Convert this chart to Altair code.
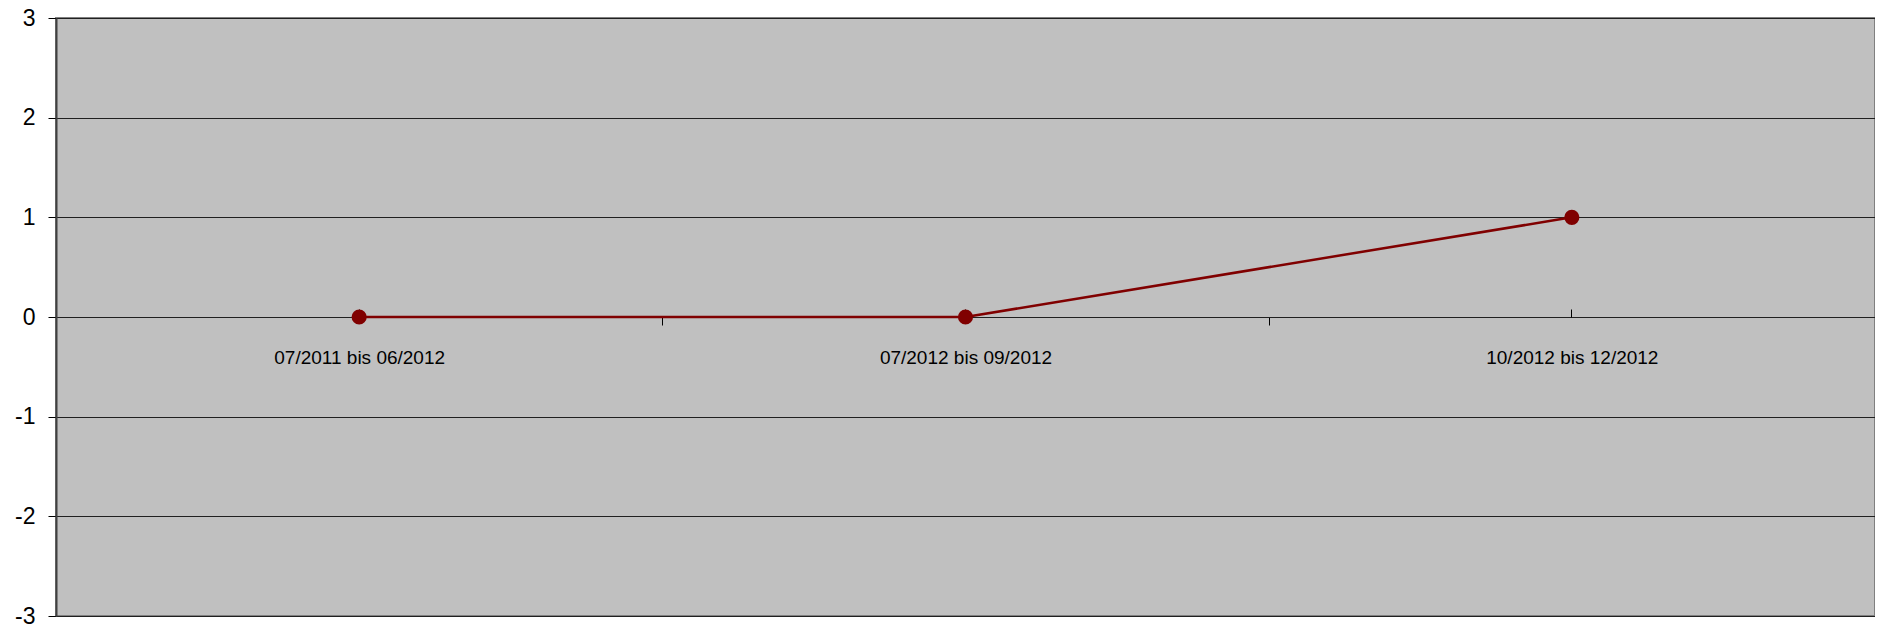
import altair as alt
import pandas as pd

categories = ["07/2011 bis 06/2012", "07/2012 bis 09/2012", "10/2012 bis 12/2012"]
values = [0, 0, 1]
y_ticks = [-3, -2, -1, 0, 1, 2, 3]

df = pd.DataFrame({"Zeitraum": categories, "Wert": values})

W = 1819
H = 598
FONT = "Liberation Sans"

xscale = alt.Scale(type="band", paddingInner=0, paddingOuter=0)
yscale = alt.Scale(domain=[-3, 3], nice=False, zero=False)

yaxis = alt.Axis(
    title=None, values=y_ticks, labelExpr="'' + datum.value", labelFontSize=23,
    labelFont=FONT, labelColor="black", labelPadding=13, tickSize=8,
    tickColor="black", domainColor="#404040", domainWidth=2, gridColor="#202020",
    gridWidth=1, gridOpacity=1,
)

base = alt.Chart(df)

line = base.mark_line(color="#800000", strokeWidth=2.5).encode(
    x=alt.X("Zeitraum:N", sort=categories, scale=xscale, axis=alt.Axis(
        title=None, orient="bottom", offset=-H / 2, labelAngle=0, labelFontSize=19,
        labelFont=FONT, labelColor="black", tickBand="extent", tickSize=8,
        tickColor="black", domainColor="#202020", grid=False, labelPadding=23)),
    y=alt.Y("Wert:Q", scale=yscale, axis=yaxis),
)

pts = base.mark_point(filled=True, size=230, color="#800000", opacity=1).encode(
    x=alt.X("Zeitraum:N", sort=categories, scale=xscale, axis=alt.Axis(
        title=None, orient="top", offset=-H / 2, labels=False, domain=False,
        tickSize=8, tickColor="black", grid=False)),
    y=alt.Y("Wert:Q", scale=yscale, axis=yaxis),
)

chart = (
    alt.layer(line, pts)
    .resolve_axis(x="independent")
    .properties(
        width=W, height=H, background="white",
        autosize=alt.AutoSizeParams(type="none"),
        padding={"left": 48, "top": 10, "right": 0, "bottom": 8},
    )
    .configure_view(fill="#C0C0C0", stroke="#808080", strokeWidth=2)
)

chart.save("out.html", embed_options={"renderer": "svg", "actions": False})
